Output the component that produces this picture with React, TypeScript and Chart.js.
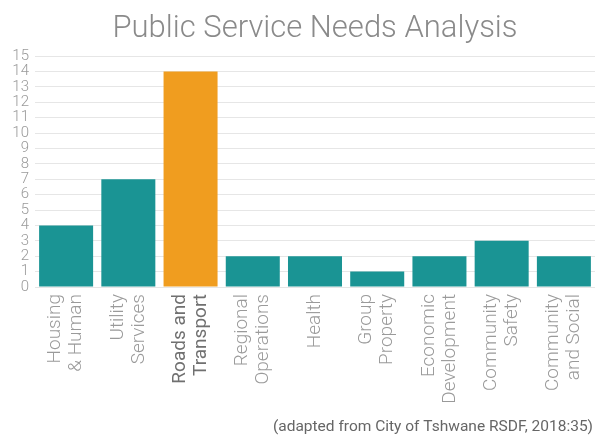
import React, { useEffect, useRef } from "react";
import { Chart, registerables } from "chart.js";

Chart.register(...registerables);

const categories: string[][] = [
  ["Housing", "& Human"],
  ["Utility", "Services"],
  ["Roads and", "Transport"],
  ["Regional", "Operations"],
  ["Health"],
  ["Group", "Property"],
  ["Economic", "Development"],
  ["Community", "Safety"],
  ["Community", "and Social"],
];
const needs: number[] = [4, 7, 14, 2, 2, 1, 2, 3, 2];
const highlightIndex = 2;
const yTicks: number[] = [0, 1, 2, 3, 4, 5, 6, 7, 8, 9, 10, 11, 12, 13, 14, 15];
const titleText = "Public Service Needs Analysis";
const sourceText = "(adapted from City of Tshwane RSDF, 2018:35)";

const TEAL = "#1a9494";
const ORANGE = "#f09d1f";
const FONT = "Roboto, 'Liberation Sans', sans-serif";

const textPlugin = {
  id: "textPlugin",
  afterDraw(chart: any) {
    const { ctx, chartArea } = chart;
    const x = chart.scales.x;
    const lineH = 21;
    ctx.save();
    // title centered over plot area
    ctx.fillStyle = "#8a8a8a";
    ctx.font = `300 31px ${FONT}`;
    ctx.textAlign = "center";
    ctx.textBaseline = "middle";
    ctx.fillText(titleText, (chartArea.left + chartArea.right) / 2, 29);
    // source note
    ctx.fillStyle = "#666666";
    ctx.font = `400 15.5px ${FONT}`;
    ctx.textAlign = "right";
    ctx.fillText(sourceText, chartArea.right - 2, 427);
    // category labels
    categories.forEach((lines, i) => {
      const cx = x.getPixelForTick(i);
      const top = chartArea.bottom + 7;
      ctx.save();
      ctx.translate(cx, top);
      ctx.rotate(-Math.PI / 2);
      ctx.textAlign = "right";
      ctx.textBaseline = "middle";
      const hl = i === highlightIndex;
      ctx.fillStyle = hl ? "#707070" : "#9a9a9a";
      ctx.font = `${hl ? 400 : 300} 19px ${FONT}`;
      lines.forEach((ln, j) => {
        const off = (j - (lines.length - 1) / 2) * lineH;
        ctx.fillText(ln, 0, off);
      });
      ctx.restore();
    });
    ctx.restore();
  },
};

export default function App() {
  const ref = useRef<HTMLCanvasElement | null>(null);
  useEffect(() => {
    document.body.style.margin = "0";
    if (!ref.current) return;
    const chart = new Chart(ref.current, {
      type: "bar",
      data: {
        labels: categories,
        datasets: [
          {
            data: needs,
            backgroundColor: needs.map((_, i) => (i === highlightIndex ? ORANGE : TEAL)),
            borderWidth: 0,
            categoryPercentage: 1,
            barPercentage: 0.868,
          },
        ],
      },
      options: {
        animation: false,
        responsive: false,
        layout: { padding: { left: 0, right: 0, top: 56, bottom: 0 } },
        plugins: {
          legend: { display: false },
          tooltip: { enabled: false },
          title: { display: false },
        },
        scales: {
          x: {
            grid: { display: false },
            border: { display: false },
            ticks: { display: false },
            afterFit: (s: any) => {
              s.height = 149;
            },
          },
          y: {
            min: 0,
            max: 15,
            afterBuildTicks: (s: any) => {
              s.ticks = yTicks.map((v) => ({ value: v }));
            },
            grid: { color: "#e6e6e6", lineWidth: 1, drawTicks: false },
            border: { display: false },
            ticks: {
              autoSkip: false,
              color: "#9a9a9a",
              padding: 6,
              font: { family: FONT, size: 15, weight: 300 as any, lineHeight: 1 },
            },
            afterFit: (s: any) => {
              s.width = 35;
            },
          },
        },
      },
      plugins: [textPlugin],
    });
    return () => chart.destroy();
  }, []);
  return (
    <div style={{ width: 595, height: 436 }}>
      <canvas ref={ref} width={595} height={436} style={{ display: "block" }} />
    </div>
  );
}
